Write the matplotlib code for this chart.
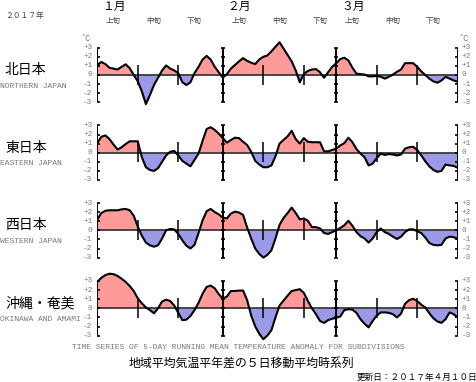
import matplotlib
matplotlib.use("Agg")
import matplotlib.pyplot as plt
import numpy as np

# ---------------- data (°C anomalies, 5-day running mean, Jan 1 .. Mar 31 2017) -------------
days = list(range(90))

north = [1.1, 1.43, 1.2, 0.8, 0.7, 0.6, 0.9, 1.18, 0.75, 0.0,
         -0.7, -1.8, -3.2, -2.2, -1.1, -0.3, 0.5, 1.05, 0.7, 0.5,
         0.2, -0.8, -1.1, -0.8, 0.2, 0.9, 1.7, 2.1, 1.7, 0.9,
         0.3, -0.3, 0.1, 0.7, 1.1, 1.5, 1.85, 1.55, 1.35, 1.2,
         1.7, 2.0, 2.15, 2.6, 3.1, 3.6, 2.9, 2.2, 1.5, 0.5,
         -0.8, 0.1, 0.45, 0.6, 0.65, 0.3, -0.3, 0.3, 0.9, 1.3,
         1.75, 1.9, 1.6, 0.8, 0.15, 0.1, 0.05, -0.15, -0.15, -0.1,
         -0.2, -0.4, -0.2, 0.05, 0.35, 0.6, 1.3, 1.3, 1.3, 0.9,
         0.4, 0.0, -0.4, -0.7, -0.85, -0.6, -0.2, -0.4, -0.6, -0.75]

east = [1.07, 1.75, 1.9, 1.5, 0.9, 0.35, 0.6, 0.95, 1.25, 1.25,
        1.25, -0.5, -1.6, -1.9, -2.0, -1.7, -1.0, -0.3, 0.1, 0.2,
        -0.3, -0.9, -1.2, -1.5, -0.8, -0.1, 1.3, 2.6, 2.8, 2.5,
        2.1, 1.6, 1.1, 1.4, 1.65, 1.6, 1.2, 0.85, 0.1, -0.9,
        -1.3, -1.6, -1.6, -1.4, -0.4, 1.0, 1.4, 1.8, 2.4, 1.5,
        1.0, 1.6, 1.2, 1.15, 1.15, 1.15, 0.15, 0.15, 0.3, 0.45,
        0.8, 1.05, 1.65, 1.15, 0.4, -0.1, -0.5, -1.4, -1.2, -0.6,
        -0.1, -0.25, -0.15, -0.2, -0.3, -0.2, 0.45, 0.6, 0.65, 0.3,
        -0.3, -0.95, -1.5, -1.9, -2.1, -2.0, -1.3, -1.4, -1.45, -1.65]

west = [1.2, 1.9, 2.15, 2.2, 2.2, 2.2, 2.3, 2.35, 2.2, 1.6,
        0.4, -0.6, -1.35, -1.65, -1.8, -1.65, -0.9, 0.0, 0.15, 0.1,
        -0.4, -1.1, -1.7, -2.0, -1.6, -0.3, 1.1, 2.1, 2.35, 2.0,
        1.75, 1.4, 1.3, 1.85, 2.05, 1.95, 1.7, 0.3, -0.9, -2.0,
        -2.6, -3.0, -2.7, -2.2, -0.9, 0.6, 1.35, 1.9, 2.5, 1.9,
        1.2, 1.3, 1.05, 0.35, 0.35, 0.2, -0.3, -0.4, -0.2, 0.0,
        0.25, 0.55, 1.05, 0.5, -0.2, -0.65, -0.9, -1.35, -0.9, -0.2,
        0.2, -0.2, -0.4, -0.7, -0.95, -0.7, -0.2, 0.1, 0.1, -0.1,
        -0.3, -0.8, -1.4, -1.6, -1.65, -1.6, -0.9, -0.7, -0.75, -0.95]

okinawa = [2.9, 3.35, 3.65, 3.8, 3.75, 3.55, 3.25, 2.9, 2.45, 1.9,
           1.1, 0.55, 0.1, -0.2, -0.55, 0.0, 0.75, 0.95, 0.8, 0.3,
           -0.5, -1.3, -1.25, -0.85, -0.2, 0.6, 1.6, 2.35, 2.5, 2.2,
           1.55, 1.05, 1.3, 1.9, 1.9, 1.95, 1.95, 0.9, -0.8, -2.0,
           -2.8, -3.4, -3.0, -2.4, -1.0, 0.3, 0.85, 1.4, 1.9, 2.0,
           2.1, 1.7, 0.8, 0.0, -0.65, -1.4, -1.6, -1.3, -1.15, -1.05,
           -0.9, -0.2, -0.1, -0.15, -0.5, -1.2, -1.7, -2.1, -1.4, -0.8,
           -0.45, -0.45, -0.5, -0.65, -1.0, -0.6, 0.5, 0.9, 1.05, 0.8,
           0.4, 0.1, -0.55, -1.1, -1.45, -1.6, -1.2, -0.45, -0.65, -1.0]

region_jp = ["北日本", "東日本", "西日本", "沖縄・奄美"]
region_en = ["NORTHERN JAPAN", "EASTERN JAPAN", "WESTERN JAPAN", "OKINAWA AND AMAMI"]
series = [north, east, west, okinawa]

month_labels = ["１月", "２月", "３月"]
month_starts = [0, 31, 59]
end_day = 89
dekad_labels = ["上旬", "中旬", "下旬"]
dekad_ticks = [10, 20, 41, 51, 69, 79]
ytick_vals = [3, 2, 1, 0, -1, -2, -3]
ytick_labels = ["+3", "+2", "+1", "0", "-1", "-2", "-3"]

title_en = "TIME SERIES OF 5-DAY RUNNING MEAN TEMPERATURE ANOMALY FOR SUBDIVISIONS"
title_jp = "地域平均気温平年差の５日移動平均時系列"
updated = "更新日：２０１７年４月１０日"
year_label = "２０１７年"

# ---------------- layout -------------
W, H = 476, 382
fig = plt.figure(figsize=(W / 100, H / 100), dpi=100)
JP = ["Noto Sans CJK JP", "DejaVu Sans"]
MONO = ["Liberation Mono", "DejaVu Sans Mono"]

RED = "#ff9a9a"
BLUE = "#9a9ae8"
GRAY = "#7a7a7a"

x_left, x_right = 97.3, 457.7
zero_px = [75.0, 152.7, 230.3, 308.3]
unit_px = 9.1
ylim = 4.0
ax_h = 2 * ylim * unit_px

x = np.array(days)
axes = []
for k, (vals, jp, en) in enumerate(zip(series, region_jp, region_en)):
    bottom = (H - zero_px[k] - ax_h / 2) / H
    ax = fig.add_axes([x_left / W, bottom, (x_right - x_left) / W, ax_h / H])
    ax.set_xlim(0, end_day)
    ax.set_ylim(-ylim, ylim)
    ax.axis("off")
    y = np.array(vals)
    ax.fill_between(x, y, 0, where=y >= 0, interpolate=True, color=RED, lw=0)
    ax.fill_between(x, y, 0, where=y <= 0, interpolate=True, color=BLUE, lw=0)
    ax.axhline(0, color="#3a3a3a", lw=1.3, zorder=3)
    # month boundary / frame axes with integer ticks
    for xd in month_starts + [end_day]:
        ax.vlines(xd, -3, 3, color="black", lw=1.4, zorder=4)
        ax.hlines(ytick_vals, xd - 0.55, xd + 0.55, color="black", lw=1.2, zorder=4)
    for xd in dekad_ticks:
        ax.vlines(xd, -1.05, 1.15, color="black", lw=1.1, zorder=4)
    ax.plot(x, y, color="black", lw=1.5, zorder=5, solid_joinstyle="round")
    # y tick labels on both sides
    for v, lab in zip(ytick_vals, ytick_labels):
        ax.annotate(lab, (0, v), xytext=(-3.5, 0), textcoords="offset points",
                    ha="right", va="center", fontsize=5.6, color=GRAY,
                    family=MONO, annotation_clip=False)
        ax.annotate(lab, (end_day, v), xytext=(3.0, 0), textcoords="offset points",
                    ha="left", va="center", fontsize=5.6, color=GRAY,
                    family=MONO, annotation_clip=False)
    # region labels
    fig.text(5 / W, 1 - (zero_px[k] - 5) / H, jp, ha="left", va="center",
             fontsize=10, family=JP)
    fig.text(0.5 / W, 1 - (zero_px[k] + 11) / H, en, ha="left", va="center",
             fontsize=5.8, family=MONO, color=GRAY)
    axes.append(ax)

# degree C markers
fig.text(86 / W, 1 - 38.5 / H, "˚C", ha="center", va="center", fontsize=6.2,
         family=MONO, color=GRAY)
fig.text(464 / W, 1 - 38.5 / H, "˚C", ha="center", va="center", fontsize=6.2,
         family=MONO, color=GRAY)

# month and dekad labels
for m, lab in zip(month_starts, month_labels):
    xf = (x_left + (m + 1.2) * (x_right - x_left) / end_day) / W
    fig.text(xf, 1 - 6.5 / H, lab, ha="left", va="center", fontsize=8.5, family=JP)
    for j, dl in enumerate(dekad_labels):
        xd = m + 4 + 10 * j
        xf = (x_left + xd * (x_right - x_left) / end_day) / W
        fig.text(xf, 1 - 20.5 / H, dl, ha="center", va="center", fontsize=5.4,
                 family=JP, color="#444444")

fig.text(25 / W, 1 - 16 / H, year_label, ha="center", va="center", fontsize=5.6,
         family=JP, color="#444444")

# bottom titles
fig.text(238 / W, 1 - 347.7 / H, title_en, ha="center", va="center", fontsize=5.8,
         family=MONO, color=GRAY)
fig.text(241.5 / W, 1 - 363 / H, title_jp, ha="center", va="center", fontsize=8.6,
         family=JP)
fig.text(477 / W, 1 - 377.5 / H, updated, ha="right", va="center", fontsize=6.2,
         family=JP)

fig.savefig("out.png", dpi=100, facecolor="white")
